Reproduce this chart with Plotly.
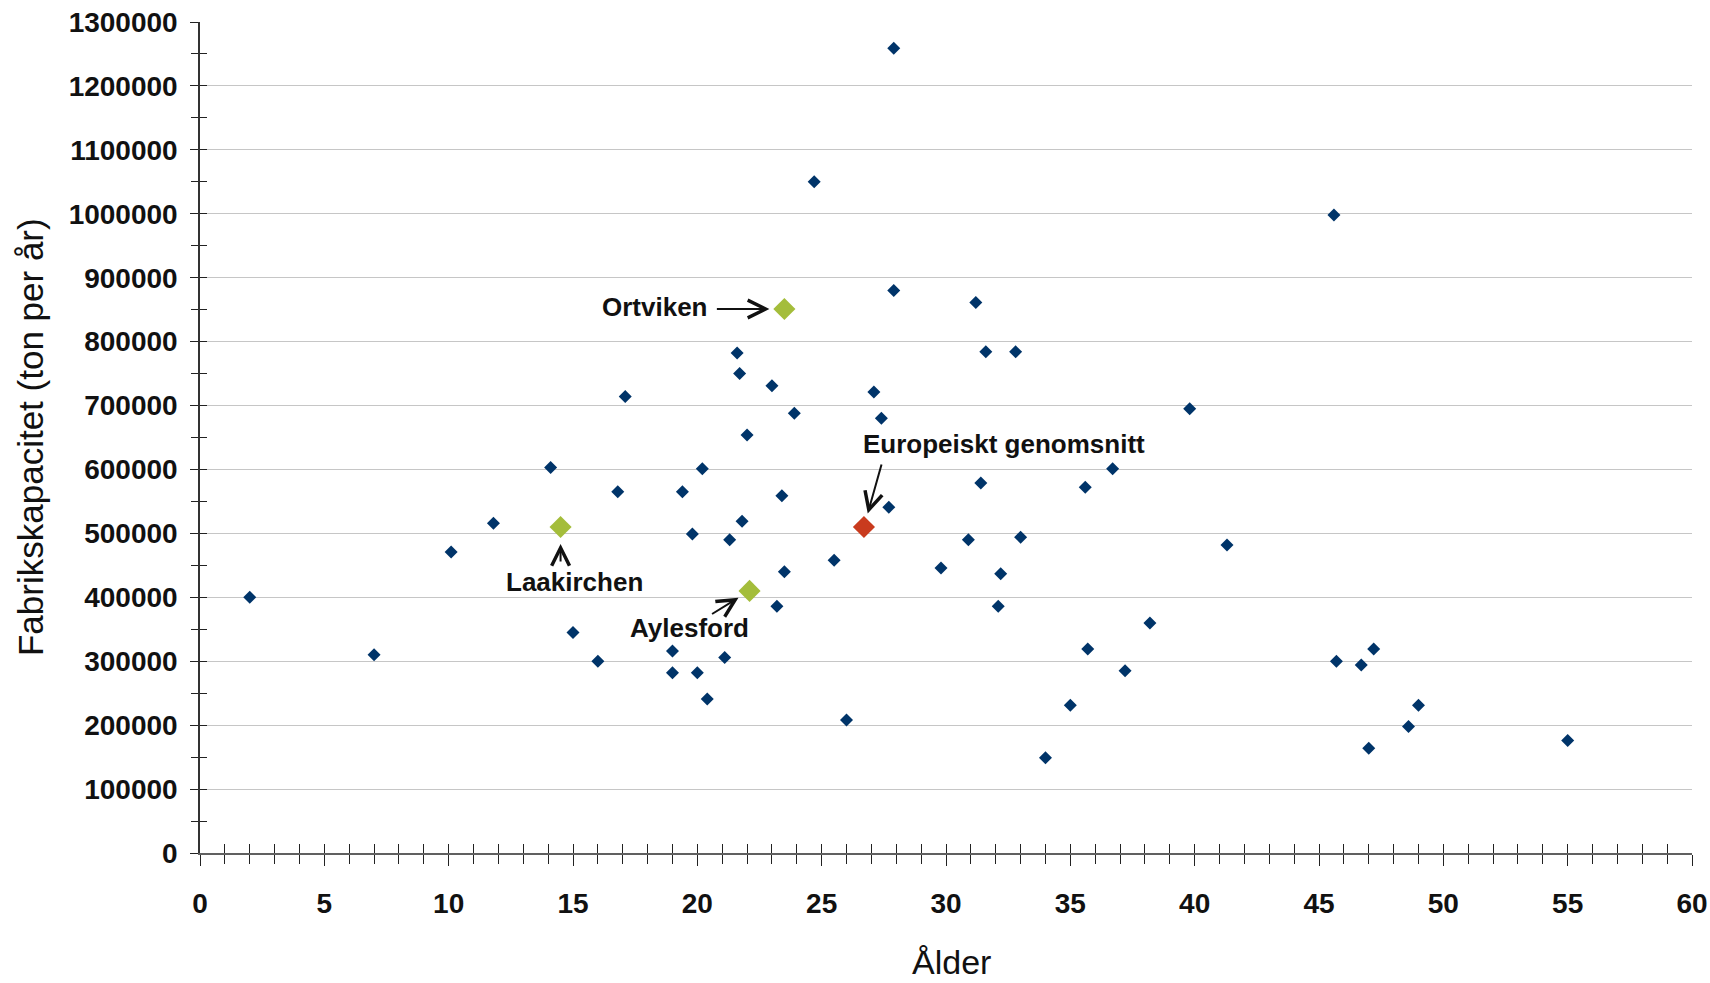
import plotly.graph_objects as go

# Regular mills: age (years) and capacity (tonnes per year)
mill_age = [2.0, 7.0, 10.1, 11.8, 14.1, 15.0, 16.0, 16.8, 17.1, 19.0, 19.0, 19.4, 19.8, 20.0,
            20.2, 20.4, 21.1, 21.3, 21.6, 21.7, 21.8, 22.0, 23.0, 23.2, 23.4, 23.5, 23.9, 24.7,
            25.5, 26.0, 27.1, 27.4, 27.7, 27.9, 27.9, 29.8, 30.9, 31.2, 31.4, 31.6, 32.1, 32.2,
            32.8, 33.0, 34.0, 35.0, 35.6, 35.7, 36.7, 37.2, 38.2, 39.8, 41.3, 45.6, 45.7, 46.7,
            47.0, 47.2, 48.6, 49.0, 55.0]
mill_capacity = [400000, 310000, 471000, 516000, 603000, 345000, 300000, 565000, 714000, 316000,
                 282000, 565000, 499000, 282000, 601000, 241000, 306000, 490000, 782000, 750000,
                 519000, 654000, 731000, 386000, 559000, 440000, 688000, 1050000, 458000, 208000,
                 721000, 680000, 541000, 880000, 1259000, 446000, 490000, 861000, 579000, 784000,
                 386000, 437000, 784000, 494000, 149000, 231000, 572000, 319000, 601000, 285000,
                 360000, 695000, 482000, 998000, 300000, 294000, 164000, 319000, 198000, 231000,
                 176000]

# Highlighted mills
hl_names = ["Ortviken", "Laakirchen", "Aylesford", "Europeiskt genomsnitt"]
hl_age = [23.5, 14.5, 22.1, 26.7]
hl_capacity = [851000, 510000, 410000, 510000]
hl_colors = ["#A4BD3B", "#A4BD3B", "#A4BD3B", "#C93B1E"]

x_ticks = list(range(0, 61, 5))
y_ticks = list(range(0, 1300001, 100000))

BLUE = "#003469"
FONT = "Liberation Sans, Arial, sans-serif"

fig = go.Figure()
fig.add_trace(go.Scatter(x=mill_age, y=mill_capacity, mode="markers",
                         marker=dict(symbol="diamond", size=10, color=BLUE),
                         showlegend=False, hoverinfo="skip", cliponaxis=False))
fig.add_trace(go.Scatter(x=hl_age, y=hl_capacity, mode="markers",
                         marker=dict(symbol="diamond", size=17, color=hl_colors),
                         showlegend=False, hoverinfo="skip"))
# empty trace to realise the overlay axes used for the inner half of the crossing ticks
fig.add_trace(go.Scatter(x=[], y=[], xaxis="x2", yaxis="y2", showlegend=False))

# label offsets (px) and arrow tails (px) relative to each highlighted point
label_shift = [(-129, 2), (14, -55), (-60, -37), (140, 83)]
arrow_tail = [(-69, 0), (0, 36), (-39, 24), (18, -64)]
arrow_standoff = [15, 17, 13, 14]

annotations = []
for name, xa, ya, (dx, dy), (tx, ty), so in zip(hl_names, hl_age, hl_capacity,
                                                 label_shift, arrow_tail, arrow_standoff):
    annotations.append(dict(x=xa, y=ya, xref="x", yref="y", text=name, showarrow=False,
                            xshift=dx, yshift=dy,
                            font=dict(family=FONT, size=26, color="#111111", weight="bold")))
    annotations.append(dict(x=xa, y=ya, xref="x", yref="y", text="", showarrow=True,
                            ax=tx, ay=ty, axref="pixel", ayref="pixel",
                            arrowhead=5, arrowsize=1.75, arrowwidth=2, arrowcolor="#111111",
                            standoff=so))

annotations.append(dict(text="Ålder", xref="paper", yref="paper", x=0.5034, y=-0.131,
                        xanchor="center", yanchor="middle", showarrow=False,
                        font=dict(family=FONT, size=34, color="#111111")))
annotations.append(dict(text="Fabrikskapacitet (ton per år)", xref="paper", yref="paper",
                        x=-0.1136, y=0.5, xanchor="center", yanchor="middle", textangle=-90,
                        showarrow=False, font=dict(family=FONT, size=35, color="#111111")))

tickfont = dict(family=FONT, size=28, color="#111111", weight="bold")

fig.update_layout(
    width=1710, height=983,
    margin=dict(l=200, r=18, t=22, b=130, autoexpand=False),
    paper_bgcolor="white", plot_bgcolor="white",
    annotations=annotations,
    xaxis=dict(range=[0, 60], tickmode="array", tickvals=x_ticks, ticktext=[str(v) for v in x_ticks],
               ticks="outside", ticklen=11, tickwidth=1.3, tickcolor="#222222",
               minor=dict(dtick=1, ticks="outside", ticklen=9, tickwidth=1.3, tickcolor="#222222",
                          showgrid=False),
               showline=True, linecolor="#606060", linewidth=2, showgrid=False, zeroline=False,
               tickfont=tickfont, ticklabelstandoff=13, fixedrange=True, automargin=False),
    yaxis=dict(range=[0, 1300000], tickmode="array", tickvals=y_ticks, ticktext=[str(v) for v in y_ticks],
               ticks="outside", ticklen=8, tickwidth=1.3, tickcolor="#222222",
               minor=dict(dtick=50000, ticks="outside", ticklen=7, tickwidth=1.3, tickcolor="#222222",
                          showgrid=False),
               showline=True, linecolor="#333333", linewidth=1.5,
               showgrid=True, gridcolor="#C6C6C6", gridwidth=1.2, zeroline=False,
               tickfont=tickfont, ticklabelstandoff=7, fixedrange=True, automargin=False),
    xaxis2=dict(overlaying="x", anchor="y2", side="bottom", range=[0, 60], dtick=5,
                ticks="inside", ticklen=9, tickwidth=1.3, tickcolor="#222222",
                minor=dict(dtick=1, ticks="inside", ticklen=9, tickwidth=1.3, tickcolor="#222222"),
                showticklabels=False, showline=False, showgrid=False, zeroline=False,
                automargin=False),
    yaxis2=dict(overlaying="y", anchor="x2", side="left", range=[0, 1300000], dtick=100000,
                ticks="inside", ticklen=7, tickwidth=1.3, tickcolor="#222222",
                minor=dict(dtick=50000, ticks="inside", ticklen=7, tickwidth=1.3, tickcolor="#222222"),
                showticklabels=False, showline=False, showgrid=False, zeroline=False,
                automargin=False),
)

fig.write_html("out.html", config={"displayModeBar": False},
               post_script="document.body.style.margin='0';document.body.style.overflow='hidden';")
